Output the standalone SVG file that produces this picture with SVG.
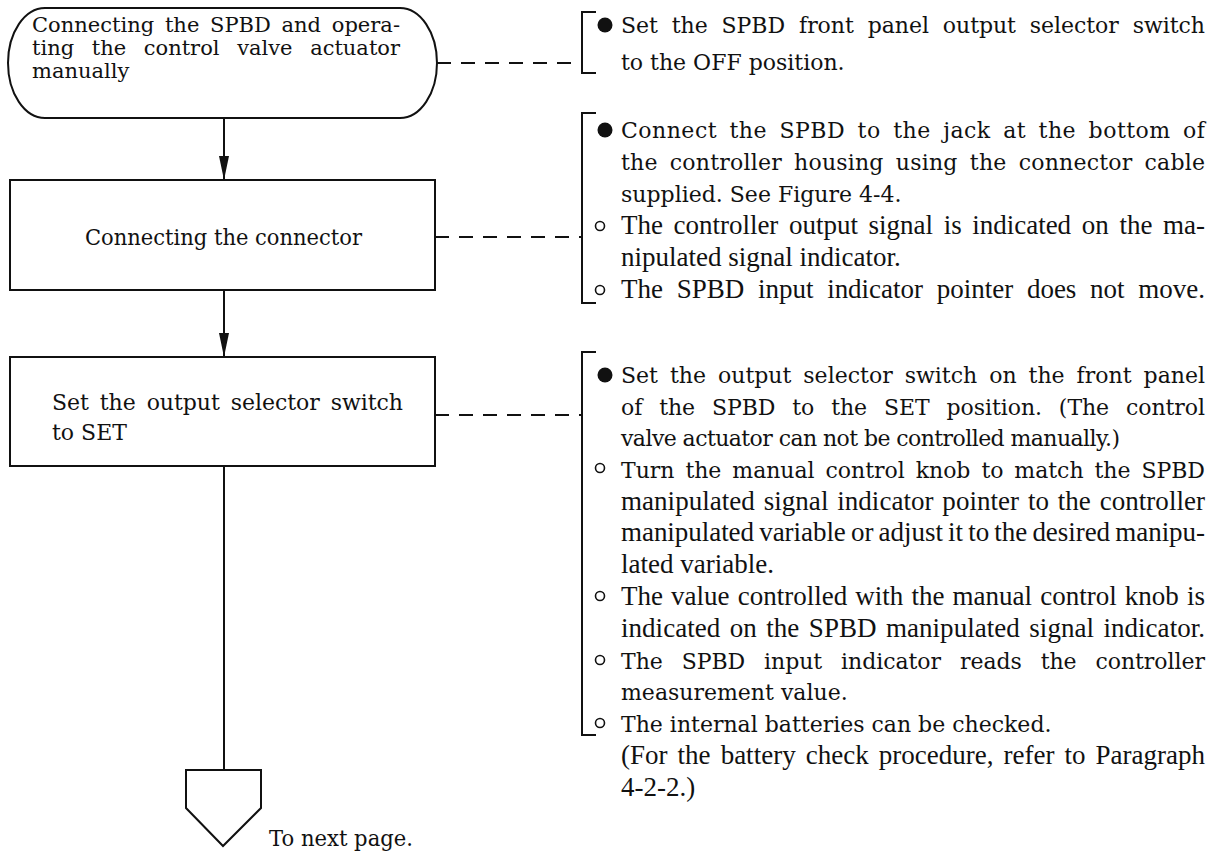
<svg xmlns="http://www.w3.org/2000/svg" width="1215" height="851" viewBox="0 0 1215 851">
  <style>
    .shape { fill: #fff; stroke: #111; stroke-width: 2; }
    .line { fill: none; stroke: #111; stroke-width: 2; }
    .dash { fill: none; stroke: #111; stroke-width: 2; stroke-dasharray: 14 10; }
    .br { fill: none; stroke: #111; stroke-width: 2; }
    text { fill: #111; }
    .c { font-family: "DejaVu Serif", "Liberation Serif", serif; font-size: 22px; }
    .p { font-family: "DejaVu Serif", "Liberation Serif", serif; font-size: 21px; }
    .t { font-family: "Liberation Serif", "Times New Roman", serif; font-size: 27px; }
    .dot { fill: #111; }
    .ring { fill: none; stroke: #111; stroke-width: 1.6; }
  </style>
  <defs>
    <marker id="arrow" viewBox="0 0 24 10" refX="24" refY="5" markerWidth="24" markerHeight="10" markerUnits="userSpaceOnUse" orient="auto">
      <path d="M0,0 L24,5 L0,10 Z" fill="#111"/>
    </marker>
  </defs>

  <!-- flow connectors -->
  <g id="connectors">
    <line class="line" x1="224" y1="118" x2="224" y2="180" marker-end="url(#arrow)"/>
    <line class="line" x1="224" y1="290" x2="224" y2="357" marker-end="url(#arrow)"/>
    <line class="line" x1="224" y1="466" x2="224" y2="770"/>
    <line class="dash" x1="437" y1="63" x2="582" y2="63"/>
    <line class="dash" x1="435" y1="237" x2="582" y2="237"/>
    <line class="dash" x1="435" y1="415" x2="582" y2="415"/>
  </g>

  <!-- start terminal -->
  <g id="start">
    <path class="shape" d="M45,8 H400 A37,55 0 0 1 400,118 H45 A37,55 0 0 1 45,8 Z"/>
    <text class="p" x="32" y="32" word-spacing="4" textLength="368" lengthAdjust="spacing">Connecting the SPBD and opera-</text>
    <text class="p" x="32" y="55" word-spacing="11" textLength="368" lengthAdjust="spacing">ting the control valve actuator</text>
    <text class="p" x="32" y="78">manually</text>
  </g>

  <!-- step: connect the connector -->
  <g id="connect">
    <rect class="shape" x="10" y="180" width="425" height="110"/>
    <text class="c" x="85" y="245" textLength="277" lengthAdjust="spacingAndGlyphs">Connecting the connector</text>
  </g>

  <!-- step: selector switch to SET -->
  <g id="set-switch">
    <rect class="shape" x="10" y="357" width="425" height="109"/>
    <text class="c" x="52" y="410" word-spacing="4" textLength="351" lengthAdjust="spacing">Set the output selector switch</text>
    <text class="c" x="52" y="440">to SET</text>
  </g>

  <!-- off-page connector -->
  <g id="next-page">
    <path class="shape" d="M186,770 H261 V808 L223,846 L186,808 Z"/>
    <text class="c" x="269" y="846" textLength="144" lengthAdjust="spacingAndGlyphs">To next page.</text>
  </g>

  <!-- notes for the start terminal -->
  <g id="note-start">
    <path class="br" d="M596,12 H582 V73 H596"/>
    <circle class="dot" cx="605" cy="25" r="7.5"/>
    <text class="c" x="621" y="33" word-spacing="7" textLength="584" lengthAdjust="spacing">Set the SPBD front panel output selector switch</text>
    <text class="c" x="621" y="70">to the OFF position.</text>
  </g>

  <!-- notes for the connector step -->
  <g id="note-connect">
    <path class="br" d="M596,113 H582 V303 H596"/>
    <circle class="dot" cx="605" cy="130" r="7.5"/>
    <text class="c" x="621" y="138" word-spacing="5" textLength="584" lengthAdjust="spacing">Connect the SPBD to the jack at the bottom of</text>
    <text class="c" x="621" y="170" word-spacing="5" textLength="584" lengthAdjust="spacing">the controller housing using the connector cable</text>
    <text class="c" x="621" y="202">supplied. See Figure 4-4.</text>
    <circle class="ring" cx="600" cy="226" r="4.5"/>
    <text class="t" x="621" y="234" word-spacing="4" textLength="584" lengthAdjust="spacing">The controller output signal is indicated on the ma-</text>
    <text class="t" x="621" y="266">nipulated signal indicator.</text>
    <circle class="ring" cx="600" cy="290" r="4.5"/>
    <text class="t" x="621" y="298" word-spacing="7" textLength="584" lengthAdjust="spacing">The SPBD input indicator pointer does not move.</text>
  </g>

  <!-- notes for the SET step -->
  <g id="note-set">
    <path class="br" d="M596,352 H582 V735 H596"/>
    <circle class="dot" cx="605" cy="375" r="7.5"/>
    <text class="c" x="621" y="383" word-spacing="5" textLength="584" lengthAdjust="spacing">Set the output selector switch on the front panel</text>
    <text class="c" x="621" y="415" word-spacing="10" textLength="584" lengthAdjust="spacing">of the SPBD to the SET position. (The control</text>
    <text class="c" x="621" y="446" textLength="499" lengthAdjust="spacing">valve actuator can not be controlled manually.)</text>
    <circle class="ring" cx="600" cy="468" r="4.5"/>
    <text class="c" x="621" y="478" word-spacing="4" textLength="584" lengthAdjust="spacing">Turn the manual control knob to match the SPBD</text>
    <text class="t" x="621" y="510" word-spacing="2" textLength="584" lengthAdjust="spacing">manipulated signal indicator pointer to the controller</text>
    <text class="t" x="621" y="541" word-spacing="-1.5" textLength="584" lengthAdjust="spacing">manipulated variable or adjust it to the desired manipu-</text>
    <text class="t" x="621" y="573">lated variable.</text>
    <circle class="ring" cx="600" cy="596" r="4.5"/>
    <text class="t" x="621" y="605" word-spacing="1.4" textLength="584" lengthAdjust="spacing">The value controlled with the manual control knob is</text>
    <text class="t" x="621" y="637" word-spacing="2.7" textLength="584" lengthAdjust="spacing">indicated on the SPBD manipulated signal indicator.</text>
    <circle class="ring" cx="600" cy="660" r="4.5"/>
    <text class="c" x="621" y="669" word-spacing="12" textLength="584" lengthAdjust="spacing">The SPBD input indicator reads the controller</text>
    <text class="c" x="621" y="700">measurement value.</text>
    <circle class="ring" cx="600" cy="723" r="4.5"/>
    <text class="c" x="621" y="732">The internal batteries can be checked.</text>
    <text class="t" x="621" y="764" word-spacing="3.3" textLength="584" lengthAdjust="spacing">(For the battery check procedure, refer to Paragraph</text>
    <text class="t" x="621" y="796">4-2-2.)</text>
  </g>
</svg>
